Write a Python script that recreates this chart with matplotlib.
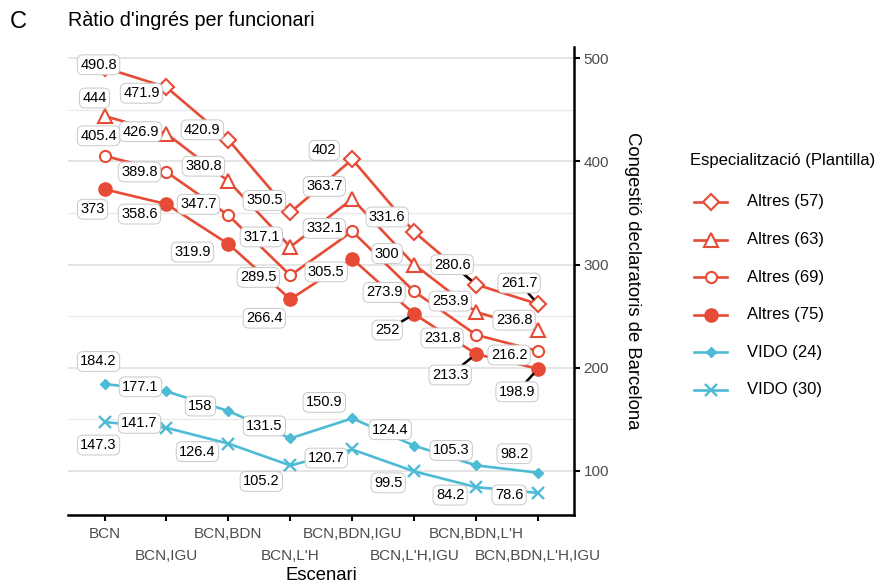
import matplotlib
matplotlib.use('Agg')
import matplotlib.pyplot as plt
from matplotlib.lines import Line2D

plt.rcParams['font.family'] = ['Liberation Sans', 'DejaVu Sans']

# ---------------- data ----------------
categories = ["BCN", "BCN,IGU", "BCN,BDN", "BCN,L'H", "BCN,BDN,IGU",
              "BCN,L'H,IGU", "BCN,BDN,L'H", "BCN,BDN,L'H,IGU"]
series_names = ["Altres (57)", "Altres (63)", "Altres (69)", "Altres (75)",
                "VIDO (24)", "VIDO (30)"]
altres_57 = [490.8, 471.9, 420.9, 350.5, 402, 331.6, 280.6, 261.7]
altres_63 = [444, 426.9, 380.8, 317.1, 363.7, 300, 253.9, 236.8]
altres_69 = [405.4, 389.8, 347.7, 289.5, 332.1, 273.9, 231.8, 216.2]
altres_75 = [373, 358.6, 319.9, 266.4, 305.5, 252, 213.3, 198.9]
vido_24 = [184.2, 177.1, 158, 131.5, 150.9, 124.4, 105.3, 98.2]
vido_30 = [147.3, 141.7, 126.4, 105.2, 120.7, 99.5, 84.2, 78.6]
y_ticks = [100, 200, 300, 400, 500]

series_values = [altres_57, altres_63, altres_69, altres_75, vido_24, vido_30]

# ---------------- styles ----------------
RED = '#E64B35'
CYAN = '#4DBBD5'
styles = [
    dict(color=RED, marker='D', ms=8, mfc='white', mew=1.5),
    dict(color=RED, marker='^', ms=9.5, mfc='white', mew=1.5),
    dict(color=RED, marker='o', ms=8, mfc='white', mew=1.5),
    dict(color=RED, marker='o', ms=9.5, mfc=RED, mew=1.0),
    dict(color=CYAN, marker='D', ms=5.5, mfc=CYAN, mew=1.0),
    dict(color=CYAN, marker='x', ms=8.5, mfc=CYAN, mew=1.7),
]
LW = 1.9

# label offsets in pixels (dx right, dy down) relative to point
label_offsets = [
    [(-6, -3), (-25, 6), (-26, -10), (-26, -12), (-28, -9), (-27, -15), (-24, -20), (-19, -21)],
    [(-10, -18), (-26, -2), (-25, -15), (-29, -10), (-28, -12.5), (-27, -11), (-26, -11), (-24, -9.5)],
    [(-6, -20), (-27, 0), (-30, -11), (-32, 2), (-28, -3), (-30, 1), (-34, 3), (-29, 4)],
    [(-12, 20), (-27, 10), (-36, 8), (-26, 19), (-26, 13), (-27, 16), (-26, 21), (-21, 23)],
    [(-6, -22.5), (-26, -4.5), (-28, -5), (-26, -12.5), (-28, -16), (-24, -16), (-25, -15), (-24, -19)],
    [(-6, 23), (-27, -4.5), (-31, 8), (-29, 16), (-26, 8.6), (-26, 11.5), (-26, 8), (-29, 2)],
]
leaders = {(0, 6), (0, 7), (3, 5), (3, 6), (3, 7)}

W, H = 880, 584
fig = plt.figure(figsize=(W / 100, H / 100), dpi=100)
ax = fig.add_axes([68 / W, 1 - 515 / H, (574 - 68) / W, (515 - 46.7) / H])

x = list(range(len(categories)))
for si, (vals, st) in enumerate(zip(series_values, styles)):
    ax.plot(x, vals, color=st['color'], lw=LW, marker=st['marker'], ms=st['ms'],
            mfc=st['mfc'], mec=st['color'], mew=st['mew'], zorder=3)

for si, vals in enumerate(series_values):
    for i, v in enumerate(vals):
        dx, dy = label_offsets[si][i]
        ap = None
        if (si, i) in leaders:
            ap = dict(arrowstyle='-', color='black', lw=1.8, shrinkA=0, shrinkB=5)
        ax.annotate(f"{v:g}", xy=(i, v), xytext=(dx, -dy), textcoords='offset pixels',
                    ha='center', va='center', fontsize=10.5, color='black',
                    bbox=dict(boxstyle='round,pad=0.2,rounding_size=0.4', fc='white',
                              ec='#c8c8c8', lw=0.7),
                    arrowprops=ap, zorder=5)

ax.set_xlim(-0.59, 7.58)
ax.set_ylim(57.2, 511.2)

# axes styling
for s in ['left', 'top']:
    ax.spines[s].set_visible(False)
for s in ['right', 'bottom']:
    ax.spines[s].set_linewidth(1.8)
    ax.spines[s].set_color('black')

ax.yaxis.tick_right()
ax.set_yticks(y_ticks)
ax.set_yticks([150, 250, 350, 450], minor=True)
ax.tick_params(axis='y', which='major', length=4, width=1.5, color='black',
               labelsize=11, labelcolor='#4D4D4D', pad=3)
ax.tick_params(axis='y', which='minor', length=0)
ax.grid(axis='y', which='major', color='#E3E3E3', lw=1.3, zorder=0)
ax.grid(axis='y', which='minor', color='#E8E8E8', lw=0.9, zorder=0)
ax.set_axisbelow(True)

ax.set_xticks(x)
ax.set_xticklabels(categories)
ax.tick_params(axis='x', length=4, width=1.5, color='black', labelsize=11,
               labelcolor='#4D4D4D', pad=5)
for i, t in enumerate(ax.xaxis.get_major_ticks()):
    if i % 2 == 1:
        t.set_pad(5 + 21 * 0.72)

# titles
fig.text(321 / W, 1 - 575 / H, "Escenari", ha='center', va='center', fontsize=13.3)
fig.text(632 / W, 1 - 281 / H, "Congestió declaratoris de Barcelona", rotation=-90,
         ha='center', va='center', fontsize=13.3)
fig.text(68 / W, 1 - 21 / H, "Ràtio d'ingrés per funcionari", ha='left', va='center',
         fontsize=14.2)
fig.text(10 / W, 1 - 22 / H, "C", ha='left', va='center', fontsize=17)

# legend (drawn manually)
fig.text(690 / W, 1 - 161 / H, "Especialització (Plantilla)", ha='left', va='center',
         fontsize=12)
for si, (name, st) in enumerate(zip(series_names, styles)):
    yy = 1 - (202 + 37.5 * si) / H
    fig.add_artist(Line2D([694 / W, 727 / W], [yy, yy], color=st['color'], lw=LW,
                          transform=fig.transFigure))
    fig.add_artist(Line2D([710.5 / W], [yy], color=st['color'], marker=st['marker'],
                          ms=st['ms'], mfc=st['mfc'], mec=st['color'], mew=st['mew'],
                          lw=0, transform=fig.transFigure))
    fig.text(747 / W, yy, name, ha='left', va='center', fontsize=12)

fig.savefig('out.png', dpi=100)
